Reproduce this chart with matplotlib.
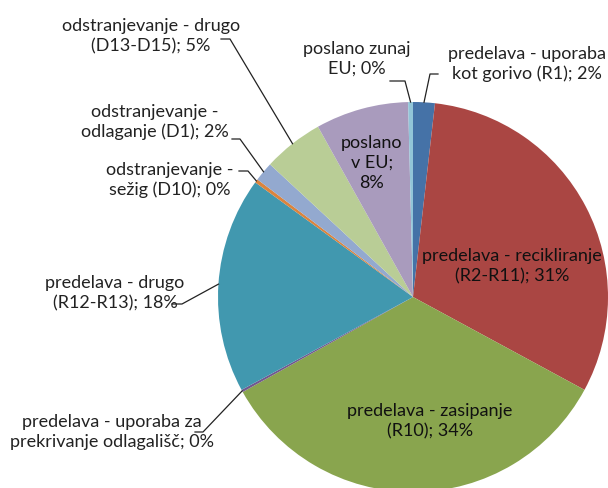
import numpy as np
import matplotlib
matplotlib.use("Agg")
import matplotlib.pyplot as plt

# deleži (%), v vrstnem redu od 12. ure v smeri urinega kazalca
labels = [
    "predelava - uporaba\nkot gorivo (R1)",
    "predelava - recikliranje\n(R2-R11)",
    "predelava - zasipanje\n(R10)",
    "predelava - uporaba za\nprekrivanje odlagališč",
    "predelava - drugo\n(R12-R13)",
    "odstranjevanje -\nsežig (D10)",
    "odstranjevanje -\nodlaganje (D1)",
    "odstranjevanje - drugo\n(D13-D15)",
    "poslano\nv EU",
    "poslano zunaj\nEU",
]
values = [1.8, 31.1, 34.0, 0.2, 17.9, 0.3, 1.6, 5.0, 7.7, 0.4]
colors = ["#4572A7", "#AA4643", "#89A54E", "#71588F", "#4198AF",
          "#DB843D", "#93A9CF", "#B9CD96", "#A99BBD", "#92C5D8"]

W, H = 608, 489
CX, CY, R = 413, 298, 195


def px(x, y):
    """piksli slike -> koordinate pite"""
    return (x - CX) / R, (CY - y) / R


fig = plt.figure(figsize=(W / 100, H / 100), dpi=100)
ax = fig.add_axes([(CX - R) / W, (H - CY - R) / H, 2 * R / W, 2 * R / H])

wedges, _ = ax.pie(values, colors=colors, startangle=90, counterclock=False,
                   radius=1, wedgeprops=dict(linewidth=0))
for w in wedges:
    w.set_clip_on(False)
ax.set_xlim(-1, 1)
ax.set_ylim(-1, 1)
ax.set_aspect("equal")
ax.axis("off")

font = dict(family=["Lato", "DejaVu Sans"], fontsize=13, ha="center",
            va="center", linespacing=1.3)

# oznake znotraj pite
inside = {1: (512, 266), 2: (430, 421), 8: (372, 163)}
# oznake zunaj: (položaj besedila, prelomna točka, konec črte)
outside = {
    0: ((527, 64), (430, 75), (438, 75)),
    9: ((357, 59), (405, 82), (390, 82)),
    7: ((151, 36), (230, 40), (221, 40)),
    6: ((155, 122), (240, 140), (232, 140)),
    5: ((170, 180), (248, 172), (239, 172)),
    4: ((115, 293), (182, 305), (172, 305)),
    3: ((112, 432), (203, 433), (195, 433)),
}

cum = np.cumsum([0] + values) / sum(values)
for i, (lab, v) in enumerate(zip(labels, values)):
    sep = ";\n" if i == 8 else "; "
    txt = f"{lab}{sep}{v:.0f}%"
    if i in inside:
        ax.text(*px(*inside[i]), txt, color="#111111", **font)
        continue
    tpos, elbow, end = outside[i]
    mid = np.deg2rad((cum[i] + cum[i + 1]) / 2 * 360)
    a = (np.sin(mid), np.cos(mid))
    b, c = px(*elbow), px(*end)
    ax.plot([a[0], b[0], c[0]], [a[1], b[1], c[1]], color="#222222",
            lw=0.9, clip_on=False)
    ax.text(*px(*tpos), txt, color="#222222", **font)

fig.savefig("out.png", dpi=100)
